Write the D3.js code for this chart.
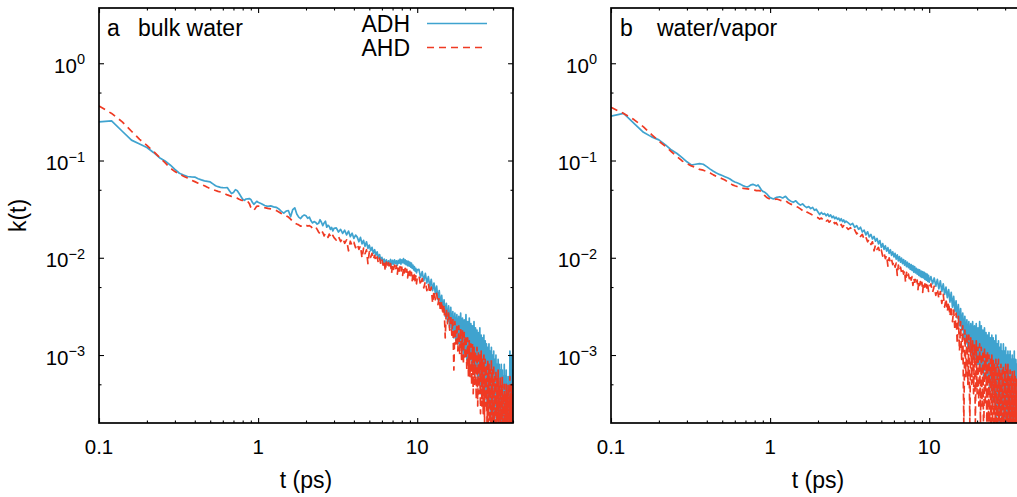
<!DOCTYPE html>
<html><head><meta charset="utf-8">
<script src="https://cdn.jsdelivr.net/npm/d3@7"></script>
<style>
body{margin:0;background:#fff;}
svg{display:block;}
text{font-family:"Liberation Sans",Arial,Helvetica,sans-serif;fill:#000;}
</style>
</head><body>
<svg id="chart" width="1017" height="497"></svg>
<script>
// ---------------- data ----------------
const times1 = [0.10,0.12,0.14,0.16,0.18,0.20,0.22,0.24,0.26,0.28,
0.30,0.32,0.34,0.36,0.38,0.40,0.42,0.44,0.46,0.48,
0.50,0.52,0.54,0.56,0.58,0.60,0.62,0.64,0.66,0.68,
0.70,0.72,0.74,0.76,0.78,0.80,0.82,0.84,0.86,0.88,
0.90,0.92,0.94,0.96,0.98,1.00];
const times2 = [1.05,1.10,1.15,1.20,1.25,1.30,1.35,1.40,1.45,1.50,
1.55,1.60,1.65,1.70,1.75,1.80,1.85,1.90,1.95,2.00,
2.05,2.10,2.15,2.20,2.25,2.30,2.35,2.40,2.45,2.50,
2.55,2.60,2.65,2.70,2.75,2.80,2.85,2.90,2.95,3.00];
const times3 = [3.1,3.2,3.3,3.4,3.5,3.6,3.7,3.8,3.9,4.0,
4.1,4.2,4.3,4.4,4.5,4.6,4.7,4.8,4.9,5.0,
5.1,5.2,5.3,5.4,5.5,5.6,5.7,5.8,5.9,6.0,
6.1,6.2,6.3,6.4,6.5,6.6,6.7,6.8,6.9,7.0,
7.1,7.2,7.3,7.4,7.5,7.6,7.7,7.8,7.9,8.0,
8.1,8.2,8.3,8.4,8.5,8.6,8.7,8.8,8.9,9.0,
9.1,9.2,9.3,9.4,9.5,9.6,9.7,9.8,9.9,10.0];
const times4 = [10.25,10.5,10.75,11,11.25,11.5,11.75,12,12.25,12.5,
12.75,13,13.25,13.5,13.75,14,14.25,14.5,14.75,15,
15.25,15.5,15.75,16,16.25,16.5,16.75,17,17.25,17.5,
17.75,18,18.25,18.5,18.75,19,19.25,19.5,19.75,20,
20.25,20.5,20.75,21,21.25,21.5,21.75,22,22.25,22.5,
22.75,23,23.25,23.5,23.75,24,24.25,24.5,24.75,25,
25.25,25.5,25.75,26,26.25,26.5,26.75,27,27.25,27.5,
27.75,28,28.25,28.5,28.75,29,29.25,29.5,29.75,30,
30.25,30.5,30.75,31,31.25,31.5,31.75,32,32.25,32.5,
32.75,33,33.25,33.5,33.75,34,34.25,34.5,34.75,35,
35.25,35.5,35.75,36,36.25,36.5,36.75,37,37.25,37.5,
37.75,38,38.25,38.5,38.75,39,39.25,39.5,39.75,40];

// panel a, ADH
const adhA1 = [0.250,0.256,0.200,0.162,0.148,0.136,0.121,0.107,0.099,0.090,
0.081,0.074,0.071,0.0685,0.0678,0.0676,0.065,0.0632,0.0618,0.061,
0.0602,0.0575,0.055,0.0538,0.053,0.0526,0.0525,0.0527,0.049,0.0457,
0.047,0.0502,0.0488,0.0458,0.0427,0.040,0.039,0.0402,0.0404,0.0406,
0.0398,0.0372,0.0355,0.0366,0.0381,0.0372];
const adhA2 = [0.036,0.0345,0.0338,0.0342,0.0334,0.033,0.0318,0.030,0.0288,0.0302,
0.0306,0.0264,0.0312,0.0326,0.0282,0.0262,0.0253,0.0268,0.0275,0.027,
0.0255,0.0262,0.024,0.0228,0.0236,0.0231,0.0222,0.0226,0.0246,0.0232,
0.0214,0.0228,0.0238,0.0206,0.0216,0.021,0.0196,0.0205,0.0189,0.0201];
const adhA3 = [0.0203,0.0184,0.0196,0.0178,0.0192,0.0172,0.0188,0.0165,0.0179,0.0158,
0.0171,0.0163,0.0146,0.0162,0.0139,0.0151,0.0131,0.0146,0.0125,0.0135,
0.0118,0.0128,0.0111,0.0121,0.0106,0.0115,0.0100,0.0108,0.0094,0.0101,
0.0089,0.0097,0.0087,0.0095,0.0085,0.0093,0.0088,0.0096,0.0084,0.0094,
0.0086,0.0095,0.0087,0.0093,0.0084,0.0094,0.0088,0.0097,0.0086,0.0095,
0.0089,0.0098,0.0087,0.0095,0.0085,0.0093,0.0083,0.0092,0.0082,0.0090,
0.0080,0.0088,0.0078,0.0084,0.0075,0.0081,0.0073,0.0078,0.0070,0.0075];
const adhA4 = [0.0076,0.0063,0.0072,0.0058,0.0069,0.0055,0.0064,0.0050,0.0060,0.0046,
0.0055,0.0043,0.0051,0.0037,0.0046,0.0033,0.0041,0.0029,0.0037,0.0025,
0.0034,0.0022,0.0032,0.0019,0.0031,0.0018,0.0028,0.0015,0.0027,0.0014,
0.0026,0.0013,0.0025,0.0012,0.0027,0.0011,0.0024,0.0010,0.0023,0.0011,
0.0026,0.0009,0.0022,0.0008,0.0024,0.0009,0.0021,0.0007,0.0020,0.0008,
0.0022,0.0006,0.0019,0.0007,0.0018,0.0005,0.0017,0.0006,0.0019,0.0004,
0.0016,0.0005,0.0015,0.0004,0.0016,0.0003,0.0014,0.0004,0.0013,0.0003,
0.0012,0.00025,0.0013,0.0003,0.0011,0.0002,0.0012,0.00025,0.0010,0.0001,
0.0011,0.0002,0.0009,0.0003,0.0010,0.0001,0.0008,0.00025,0.0009,0.0001,
0.0008,0.0002,0.0007,0.0001,0.0008,0.0002,0.0007,0.0001,0.0006,0.0002,
0.0008,0.0001,0.0006,0.0002,0.0007,0.0001,0.0005,0.0002,0.0006,0.0001,
0.0005,0.0002,0.0011,0.0001,0.0009,0.0002,0.0010,0.0001,0.0007,0.0002];

// panel a, AHD
const ahdA1 = [0.363,0.305,0.250,0.200,0.165,0.143,0.124,0.108,0.095,0.084,
0.077,0.0725,0.069,0.066,0.063,0.0607,0.0585,0.0566,0.055,0.053,
0.0515,0.0503,0.0492,0.0482,0.0475,0.0466,0.0455,0.0443,0.0435,0.0428,
0.0422,0.0418,0.041,0.040,0.0392,0.0388,0.039,0.0386,0.038,0.0362,
0.033,0.031,0.0306,0.0322,0.0338,0.034];
const ahdA2 = [0.0336,0.0328,0.0322,0.0318,0.0313,0.0306,0.0296,0.0285,0.0277,0.027,
0.0262,0.025,0.0236,0.0227,0.0222,0.0218,0.0211,0.0215,0.022,0.0216,
0.0212,0.0214,0.0209,0.020,0.0204,0.0208,0.0196,0.0184,0.0176,0.019,
0.0182,0.0168,0.018,0.0174,0.0162,0.0175,0.0166,0.0158,0.017,0.0161];
const ahdA3 = [0.0152,0.0166,0.0147,0.016,0.0141,0.0153,0.0118,0.0148,0.0133,0.0144,
0.0127,0.0139,0.0122,0.0133,0.0099,0.0126,0.011,0.0121,0.0087,0.0115,
0.0101,0.0111,0.0096,0.0106,0.0092,0.0102,0.0088,0.0099,0.0086,0.0096,
0.0084,0.0093,0.0073,0.009,0.008,0.0089,0.0078,0.0087,0.0069,0.0085,
0.0076,0.0084,0.0074,0.0083,0.0068,0.0082,0.0073,0.0081,0.0071,0.008,
0.0066,0.0079,0.007,0.0078,0.0069,0.0076,0.0062,0.0074,0.0066,0.0073,
0.0063,0.0071,0.0058,0.0069,0.006,0.0067,0.0058,0.0065,0.0054,0.0062];
const ahdA4 = [0.0066,0.0052,0.0061,0.0049,0.0057,0.0046,0.0054,0.0043,0.005,0.0034,
0.0046,0.0037,0.0043,0.0033,0.0039,0.0028,0.0036,0.0026,0.0033,0.0015,
0.003,0.0021,0.0027,0.0018,0.0026,0.0016,0.0024,0.0007,0.0022,0.0013,
0.0021,0.0011,0.002,0.001,0.0019,0.0009,0.0018,0.0008,0.0017,0.0009,
0.0016,0.0007,0.0015,0.0006,0.0014,0.0006,0.0013,0.0005,0.0013,0.0004,
0.0012,0.0005,0.0011,0.00035,0.0012,0.0003,0.0011,0.0004,0.001,0.00025,
0.0011,0.0003,0.0009,0.00025,0.001,0.0002,0.0009,0.0003,0.0008,0.00015,
0.0009,0.0002,0.0008,0.0001,0.0007,0.0002,0.0009,0.0001,0.0007,0.00015,
0.0008,0.0001,0.0006,0.0002,0.0007,0.0001,0.0006,0.0001,0.0007,0.0002,
0.0005,0.0001,0.0006,0.0001,0.0005,0.0001,0.0006,0.0002,0.0004,0.0001,
0.0005,0.0001,0.0004,0.0001,0.0005,0.0001,0.0004,0.0001,0.0005,0.0001,
0.0004,0.0001,0.0006,0.0001,0.0004,0.0001,0.0005,0.0001,0.0004,0.0001];

// panel b, ADH
const adhB1 = [0.286,0.305,0.240,0.195,0.175,0.163,0.145,0.128,0.118,0.107,
0.097,0.090,0.0915,0.093,0.0915,0.0865,0.0815,0.0775,0.0745,0.072,
0.070,0.0682,0.0665,0.0645,0.062,0.0602,0.059,0.0578,0.0562,0.0548,
0.054,0.0535,0.0548,0.0562,0.0568,0.056,0.0548,0.056,0.053,0.050,
0.0482,0.0475,0.0462,0.0448,0.043,0.0415];
const adhB2 = [0.0402,0.0418,0.0424,0.0412,0.0428,0.0398,0.0382,0.0372,0.0385,0.0362,
0.0348,0.0358,0.034,0.0328,0.0336,0.032,0.033,0.0308,0.0316,0.0296,
0.0278,0.0292,0.028,0.0286,0.027,0.0282,0.0266,0.0276,0.0258,0.0268,
0.0252,0.0262,0.0248,0.0256,0.024,0.0252,0.0236,0.0245,0.023,0.0238];
const adhB3 = [0.0228,0.0218,0.0226,0.0205,0.0214,0.0196,0.0206,0.0184,0.0192,0.0172,
0.0185,0.0164,0.0174,0.0156,0.0166,0.0148,0.0158,0.0139,0.015,0.0128,
0.014,0.0122,0.0133,0.0117,0.0127,0.0111,0.0121,0.0106,0.0115,0.0102,
0.0111,0.0097,0.0107,0.0093,0.0103,0.009,0.0099,0.0087,0.0096,0.0084,
0.0093,0.0081,0.009,0.0079,0.0087,0.0076,0.0085,0.0074,0.0083,0.0071,
0.0081,0.007,0.0078,0.0068,0.0076,0.0066,0.0075,0.0064,0.0073,0.0063,
0.0072,0.0062,0.0071,0.006,0.0069,0.0059,0.0068,0.0057,0.0066,0.0056];
const adhB4 = [0.0064,0.0054,0.0062,0.0051,0.006,0.0048,0.0058,0.0045,0.0054,0.0042,
0.005,0.0039,0.0047,0.0035,0.0044,0.0031,0.004,0.0028,0.0036,0.0024,
0.0033,0.002,0.003,0.0018,0.0027,0.0015,0.0025,0.0013,0.0023,0.0012,
0.0022,0.0011,0.0021,0.001,0.0022,0.0009,0.002,0.0009,0.0021,0.0008,
0.0019,0.0008,0.0022,0.0007,0.002,0.0007,0.0018,0.0006,0.0019,0.0007,
0.0017,0.0005,0.0016,0.0006,0.0017,0.0004,0.0015,0.0005,0.0016,0.0003,
0.0015,0.0004,0.0014,0.0003,0.0016,0.0002,0.0013,0.0003,0.0014,0.0002,
0.0012,0.00025,0.0013,0.0002,0.0011,0.0003,0.0013,0.0002,0.0011,0.0002,
0.0012,0.0001,0.001,0.0002,0.0011,0.0001,0.001,0.0002,0.0011,0.0001,
0.0009,0.0002,0.001,0.0001,0.0009,0.0002,0.0011,0.0001,0.0009,0.0002,
0.0008,0.0001,0.0009,0.0002,0.0008,0.0001,0.0007,0.0002,0.0008,0.0001,
0.0007,0.0002,0.0007,0.0001,0.0006,0.0002,0.0007,0.0001,0.0006,0.0002];

// panel b, AHD
const ahdB1 = [0.352,0.305,0.262,0.222,0.185,0.158,0.140,0.123,0.110,0.099,
0.093,0.088,0.085,0.081,0.0795,0.0772,0.0745,0.0712,0.0688,0.0668,
0.065,0.063,0.0605,0.0582,0.0562,0.055,0.054,0.053,0.0522,0.0516,
0.0514,0.0512,0.0508,0.0502,0.050,0.0496,0.049,0.0492,0.049,0.048,
0.0462,0.044,0.0425,0.0414,0.0406,0.040];
const ahdB2 = [0.0396,0.0402,0.0392,0.0384,0.0388,0.0368,0.0356,0.0348,0.0338,0.033,
0.0318,0.0306,0.0312,0.0296,0.0288,0.0282,0.0274,0.0268,0.0262,0.0258,
0.025,0.0256,0.0246,0.0252,0.0238,0.0244,0.0232,0.024,0.0228,0.0236,
0.0224,0.023,0.0218,0.0226,0.0212,0.022,0.0206,0.0214,0.020,0.0208];
const ahdB3 = [0.0196,0.0204,0.0186,0.0194,0.0176,0.0184,0.0166,0.0174,0.0154,0.0163,
0.0146,0.0155,0.0137,0.0146,0.0118,0.0136,0.0122,0.0128,0.0112,0.012,
0.0104,0.0113,0.0098,0.0106,0.0082,0.01,0.0089,0.0096,0.0085,0.0092,
0.008,0.0088,0.0066,0.0084,0.0074,0.008,0.0071,0.0077,0.0068,0.0074,
0.0056,0.0071,0.0063,0.0068,0.0061,0.0066,0.0059,0.0064,0.0052,0.0062,
0.0056,0.0061,0.0055,0.0059,0.0047,0.0058,0.0052,0.0057,0.0051,0.0056,
0.0044,0.0055,0.005,0.0054,0.0048,0.0053,0.0047,0.0052,0.0045,0.005];
const ahdB4 = [0.0054,0.0044,0.0051,0.0041,0.0048,0.0038,0.0045,0.0034,0.0042,0.0031,
0.0038,0.0028,0.0035,0.0025,0.0032,0.0022,0.0029,0.0018,0.0027,0.0013,
0.0025,0.0011,0.0022,0.0009,0.002,0.0002,0.0018,0.0006,0.0017,0.0005,
0.0016,0.0002,0.0015,0.0005,0.0014,0.0004,0.0013,0.0002,0.0014,0.0004,
0.0012,0.0003,0.0013,0.0002,0.0012,0.0003,0.0011,0.0001,0.0012,0.0003,
0.001,0.0002,0.0011,0.0001,0.001,0.0002,0.0009,0.0001,0.001,0.0002,
0.0009,0.0001,0.0008,0.0002,0.0009,0.0001,0.0008,0.0002,0.0009,0.0001,
0.0007,0.0002,0.0008,0.0001,0.0007,0.0002,0.0008,0.0001,0.0007,0.0001,
0.0008,0.0001,0.0007,0.0002,0.0008,0.0001,0.0006,0.0001,0.0007,0.0001,
0.0006,0.0001,0.0007,0.0001,0.0006,0.0001,0.0007,0.0001,0.0006,0.0001,
0.0006,0.0001,0.0005,0.0001,0.0006,0.0001,0.0005,0.0001,0.0006,0.0001,
0.0005,0.0001,0.0006,0.0001,0.0005,0.0001,0.0005,0.0001,0.0005,0.0001];

const seriesNames = ["ADH", "AHD"];
const panelLabels = ["a", "b"];
const panelTitles = ["bulk water", "water/vapor"];
const xMajorTicks = [0.1, 1, 10];
const xMajorLabels = ["0.1", "1", "10"];
const xMinorTicks = [0.2,0.3,0.4,0.5,0.6,0.7,0.8,0.9,2,3,4,5,6,7,8,9,20,30,40];
const yMajorTicks = [1, 0.1, 0.01, 0.001];
const yExponents = ["0", "\u22121", "\u22122", "\u22123"];
const yMinorTicks = [0.5, 0.05, 0.005, 0.0005];
const xDomain = [0.1, 40];
const yDomain = [2e-4, 3.7];

// ---------------- drawing ----------------
const times = [...times1, ...times2, ...times3, ...times4];
const adhA = [...adhA1, ...adhA2, ...adhA3, ...adhA4];
const ahdA = [...ahdA1, ...ahdA2, ...ahdA3, ...ahdA4];
const adhB = [...adhB1, ...adhB2, ...adhB3, ...adhB4];
const ahdB = [...ahdB1, ...ahdB2, ...ahdB3, ...ahdB4];

const colors = ["#3fa3cf", "#ef3a23"];
const dashes = [null, "7,5"];
const svg = d3.select("#chart");

const TOP = 8, BOTTOM = 423, PW = 414;
const LABEL_FS = 23, TICK_FS = 20.5;
const panels = [
  {left: 99, titleX: 138, labelX: 107, data: [adhA, ahdA], legend: true, ylabel: true},
  {left: 611, titleX: 657, labelX: 620, data: [adhB, ahdB], legend: false, ylabel: false}
];

panels.forEach((p, pi) => {
  const L = p.left, R = p.left + PW;
  const x = d3.scaleLog().domain(xDomain).range([L, R]);
  const y = d3.scaleLog().domain(yDomain).range([BOTTOM, TOP]);
  const g = svg.append("g");

  const clipId = "clip" + pi;
  svg.append("clipPath").attr("id", clipId)
    .append("rect").attr("x", L).attr("y", TOP).attr("width", PW).attr("height", BOTTOM - TOP);

  const line = d3.line().x(d => x(d[0])).y(d => y(d[1]));
  const dg = g.append("g").attr("clip-path", `url(#${clipId})`);
  p.data.forEach((vals, si) => {
    const pts = times.map((t, i) => [t, vals[i]]).filter(d => d[1] > 0);
    dg.append("path").attr("d", line(pts))
      .attr("fill", "none").attr("stroke", colors[si])
      .attr("stroke-width", 1.7).attr("stroke-linejoin", "round")
      .attr("stroke-dasharray", dashes[si]);
  });

  // ticks (inward, mirrored)
  const tickStyle = sel => { sel.select(".domain").remove(); sel.selectAll("line").attr("stroke", "#000").attr("stroke-width", 1.1); sel.selectAll("text").remove(); };
  g.append("g").attr("transform", `translate(0,${BOTTOM})`).call(d3.axisBottom(x).tickValues(xMajorTicks).tickSize(-5).tickFormat("")).call(tickStyle);
  g.append("g").attr("transform", `translate(0,${BOTTOM})`).call(d3.axisBottom(x).tickValues(xMinorTicks).tickSize(-2.5).tickFormat("")).call(tickStyle);
  g.append("g").attr("transform", `translate(0,${TOP})`).call(d3.axisTop(x).tickValues(xMajorTicks).tickSize(-5).tickFormat("")).call(tickStyle);
  g.append("g").attr("transform", `translate(0,${TOP})`).call(d3.axisTop(x).tickValues(xMinorTicks).tickSize(-2.5).tickFormat("")).call(tickStyle);
  g.append("g").attr("transform", `translate(${L},0)`).call(d3.axisLeft(y).tickValues(yMajorTicks).tickSize(-5).tickFormat("")).call(tickStyle);
  g.append("g").attr("transform", `translate(${L},0)`).call(d3.axisLeft(y).tickValues(yMinorTicks).tickSize(-2.5).tickFormat("")).call(tickStyle);
  g.append("g").attr("transform", `translate(${R},0)`).call(d3.axisRight(y).tickValues(yMajorTicks).tickSize(-5).tickFormat("")).call(tickStyle);
  g.append("g").attr("transform", `translate(${R},0)`).call(d3.axisRight(y).tickValues(yMinorTicks).tickSize(-2.5).tickFormat("")).call(tickStyle);

  // frame
  g.append("rect").attr("x", L).attr("y", TOP).attr("width", PW).attr("height", BOTTOM - TOP)
    .attr("fill", "none").attr("stroke", "#000").attr("stroke-width", 1.7);

  // x tick labels
  xMajorTicks.forEach((v, i) => {
    g.append("text").attr("x", x(v)).attr("y", BOTTOM + 31).attr("text-anchor", "middle")
      .attr("font-size", TICK_FS).text(xMajorLabels[i]);
  });
  // y tick labels
  yMajorTicks.forEach((v, i) => {
    const t = g.append("text").attr("x", L - 14).attr("y", y(v) + 9.5).attr("text-anchor", "end").attr("font-size", TICK_FS);
    t.append("tspan").text("10");
    t.append("tspan").attr("font-size", 14.5).attr("dy", -8.5).text(yExponents[i]);
  });

  // axis titles
  g.append("text").attr("x", (L + R) / 2).attr("y", 488).attr("text-anchor", "middle").attr("font-size", LABEL_FS).text("t (ps)");
  if (p.ylabel) {
    g.append("text").attr("transform", `translate(25.5,${(TOP + BOTTOM) / 2}) rotate(-90)`)
      .attr("text-anchor", "middle").attr("font-size", LABEL_FS).text("k(t)");
  }

  // panel label
  g.append("text").attr("x", p.labelX).attr("y", 36).attr("font-size", LABEL_FS).text(panelLabels[pi]);
  g.append("text").attr("x", p.titleX).attr("y", 36).attr("font-size", LABEL_FS).text(panelTitles[pi]);

  // legend
  if (p.legend) {
    seriesNames.forEach((nm, si) => {
      const ly = 23.5 + si * 24;
      g.append("text").attr("x", 410).attr("y", ly + 8).attr("text-anchor", "end").attr("font-size", LABEL_FS).text(nm);
      g.append("line").attr("x1", 427).attr("x2", 487).attr("y1", ly).attr("y2", ly)
        .attr("stroke", colors[si]).attr("stroke-width", 1.7).attr("stroke-dasharray", dashes[si]);
    });
  }
});
</script>
</body></html>
